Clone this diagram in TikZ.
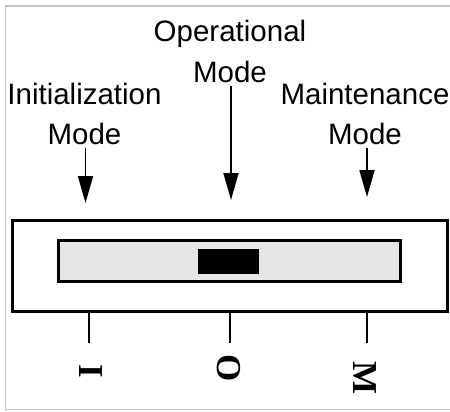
\documentclass[tikz,border=0pt]{standalone}
\usepackage{fontspec}
\setmainfont{Liberation Sans}
\newfontfamily\letterfont{Liberation Serif}
\usetikzlibrary{arrows.meta}
\definecolor{trackgray}{HTML}{E6E6E6}
\definecolor{edgegray}{HTML}{C4C4C4}
\tikzset{
  modelabel/.style={font=\fontsize{29.5}{40}\selectfont, align=center, anchor=base, inner sep=0pt},
  modearrow/.style={line width=1.8pt, shorten <=4pt, -{Triangle[width=15pt,length=27pt]}},
  casebox/.style={draw, line width=3pt, inner sep=0pt, fill=white},
  trackbox/.style={draw, line width=3pt, inner sep=0pt, fill=trackgray},
  knob/.style={fill=black, inner sep=0pt},
  tickline/.style={line width=2pt},
  poslabel/.style={font=\letterfont\bfseries\fontsize{35}{40}\selectfont, rotate=-90, inner sep=0pt},
}
\begin{document}
\begin{tikzpicture}[x=1pt, y=-1pt]
  \useasboundingbox (0,0) rectangle (450,412);
  % light outer border
  \draw[edgegray, line width=1.5pt] (451,6) -- (5.5,6) -- (5.5,409.5) -- (451,409.5);

  % mode labels (anchored on the baseline of their last line)
  \node[modelabel] (opLbl) at (230,82) {Operational\\Mode};
  \node[modelabel] (initLbl) at (84.5,144) {Initialization\\Mode};
  \node[modelabel] (maintLbl) at (365,144) {Maintenance\\Mode};

  % arrow tips
  \coordinate (initTip) at (85.5,203);
  \coordinate (opTip) at (231,200);
  \coordinate (maintTip) at (367,197);
  \draw[modearrow] (initLbl.south -| initTip) -- (initTip);
  \draw[modearrow] (opLbl.south -| opTip) -- (opTip);
  \draw[modearrow] (maintLbl.south -| maintTip) -- (maintTip);

  % switch body
  \node[casebox, minimum width=434.5pt, minimum height=91.3pt] (case) at (229.75,265.65) {};
  \node[trackbox, minimum width=341.7pt, minimum height=41.7pt] (track) at (229.15,260.85) {};
  \node[knob, minimum width=60.7pt, minimum height=24.7pt] (slider) at (228.65,261.65) {};

  % position ticks
  \coordinate (tickI) at (88.7,343);
  \coordinate (tickO) at (229.7,343);
  \coordinate (tickM) at (366.7,343);
  \draw[tickline] (case.south -| tickI) -- (tickI);
  \draw[tickline] (case.south -| tickO) -- (tickO);
  \draw[tickline] (case.south -| tickM) -- (tickM);

  % position letters
  \node[poslabel] (posI) at (90.5,371) {I};
  \node[poslabel] (posO) at (228.5,368.5) {O};
  \node[poslabel] (posM) at (365,378.5) {M};
\end{tikzpicture}
\end{document}
